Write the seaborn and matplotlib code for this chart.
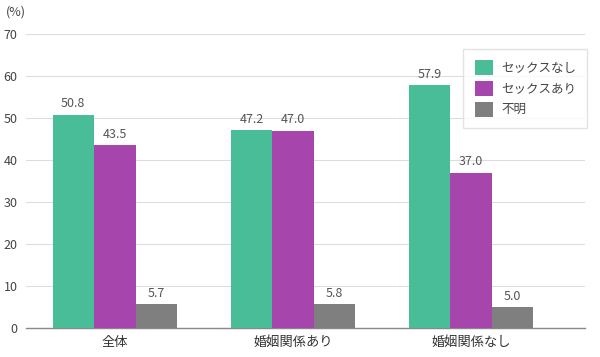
import pandas as pd
import matplotlib.pyplot as plt
import seaborn as sns

categories = ['全体', '婚姻関係あり', '婚姻関係なし']
series = ['セックスなし', 'セックスあり', '不明']
no_sex = [50.8, 47.2, 57.9]
sex = [43.5, 47.0, 37.0]
unknown = [5.7, 5.8, 5.0]
colors = ['#48BD97', '#A646AD', '#7F7F7F']

df = pd.DataFrame({
    'cat': categories * 3,
    'series': [series[0]] * 3 + [series[1]] * 3 + [series[2]] * 3,
    'value': no_sex + sex + unknown,
})

sns.set_theme(style='white')
plt.rcParams['font.family'] = ['Noto Sans CJK JP', 'DejaVu Sans']

fig = plt.figure(figsize=(6, 3.57), dpi=100)
ax = fig.add_axes([0.043, 0.081, 0.932, 0.824])

sns.barplot(data=df, x='cat', y='value', hue='series', order=categories,
            hue_order=series, palette=colors, width=0.7, saturation=1,
            linewidth=0, ax=ax, zorder=3)

for c in ax.containers:
    ax.bar_label(c, fmt='%.1f', padding=3, fontsize=9, color='#555555')

ax.set_ylim(0, 70)
ax.set_xlim(-0.5, 2.64)
ax.set_yticks(range(0, 71, 10))
ax.grid(axis='y', color='#dddddd', linewidth=0.8, zorder=0)
for s in ['top', 'right', 'left']:
    ax.spines[s].set_visible(False)
ax.spines['bottom'].set_color('#888888')
ax.spines['bottom'].set_linewidth(1)
ax.tick_params(axis='y', length=0, labelsize=9, labelcolor='#444444', pad=6)
ax.tick_params(axis='x', length=0, labelsize=9.5, labelcolor='#333333', pad=6)
ax.set_xlabel('')
ax.set_ylabel('')
ax.text(-0.035, 1.075, '(%)', transform=ax.transAxes, fontsize=9, color='#444444',
        ha='left', va='center')

leg = ax.legend(loc='upper right', bbox_to_anchor=(1.004, 0.95), borderaxespad=0,
                frameon=True, fancybox=False, edgecolor='#dddddd', fontsize=9,
                handlelength=1.5, handleheight=1.5, labelspacing=0.45,
                borderpad=0.9, handletextpad=0.6)
for t in leg.get_texts():
    t.set_color('#444444')

fig.savefig('out.png', dpi=100, facecolor='white')
